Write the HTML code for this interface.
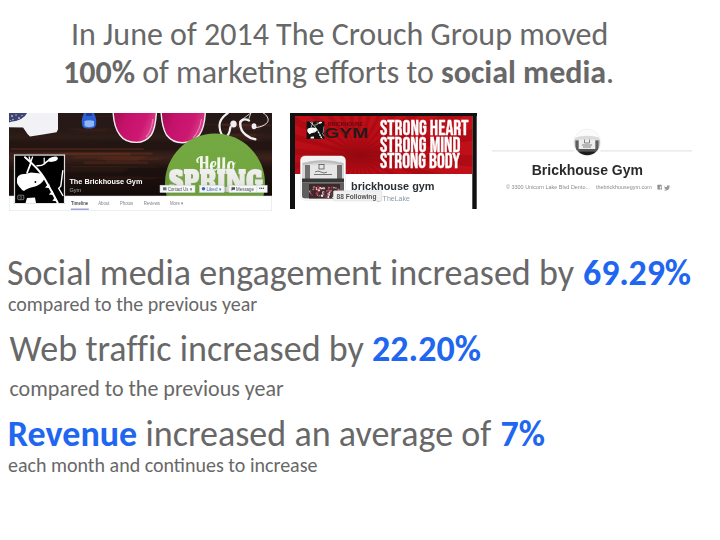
<!DOCTYPE html>
<html>
<head>
<meta charset="utf-8">
<style>
html,body{margin:0;padding:0;background:#fff;}
body{width:720px;height:540px;position:relative;overflow:hidden;font-family:Carlito,"Liberation Sans",sans-serif;color:#686868;}
.t{position:absolute;white-space:nowrap;line-height:normal;}
.b{color:#2066f0;font-weight:bold;}
.s32{font-size:32px;}
.s36{font-size:36px;letter-spacing:0.03px;}
.s20{font-size:20px;}
.s22{font-size:22px;}
.img{position:absolute;overflow:hidden;}
.img svg{display:block;filter:blur(0.3px);}
.h{font-family:"Liberation Sans",Arial,sans-serif;}
</style>
</head>
<body>
<div class="t s32" id="l1" style="left:71px;top:15.2px;">In June of 2014 The Crouch Group moved</div>
<div class="t s32" id="l2" style="left:63px;top:53.4px;"><b>100%</b> of marketing efforts to <b>social media</b>.</div>

<!-- image 1: facebook page -->
<div class="img" id="im1" style="left:9px;top:113px;width:263px;height:98px;">
<svg width="263" height="98" viewBox="0 0 263 98">
<defs>
<linearGradient id="wood" x1="0" y1="0" x2="0" y2="1">
<stop offset="0" stop-color="#251816"/>
<stop offset="0.22" stop-color="#271916"/>
<stop offset="0.29" stop-color="#2e1d18"/>
<stop offset="0.36" stop-color="#211512"/>
<stop offset="0.44" stop-color="#251512"/>
<stop offset="0.5" stop-color="#33201a"/>
<stop offset="0.54" stop-color="#3c211a"/>
<stop offset="0.59" stop-color="#301b16"/>
<stop offset="0.66" stop-color="#1f1310"/>
<stop offset="0.8" stop-color="#1c110e"/>
<stop offset="1" stop-color="#140c0a"/>
</linearGradient>
<linearGradient id="pink" x1="0" y1="0" x2="1" y2="0.3">
<stop offset="0" stop-color="#a00b50"/>
<stop offset="0.35" stop-color="#c4126a"/>
<stop offset="0.75" stop-color="#cc1870"/>
<stop offset="1" stop-color="#d8408a"/>
</linearGradient>
<linearGradient id="grn" x1="0" y1="0" x2="0" y2="1">
<stop offset="0" stop-color="#74a842"/>
<stop offset="0.45" stop-color="#72a63f"/>
<stop offset="1" stop-color="#5a8c2e"/>
</linearGradient>
<linearGradient id="spr" x1="0" y1="0" x2="0" y2="1"><stop offset="0" stop-color="#f6f6f2"/><stop offset="0.55" stop-color="#e6e6e2"/><stop offset="1" stop-color="#a8aaa4"/></linearGradient>
<clipPath id="cov"><rect x="0" y="0" width="263" height="83"/></clipPath>
</defs>
<rect x="0" y="0" width="263" height="98" fill="#fff"/>
<g clip-path="url(#cov)">
<rect x="0" y="0" width="263" height="83" fill="url(#wood)"/>
<g><rect x="65.6" y="3.3" width="43.1" height="1.1" fill="#5a2a22" opacity="0.08"/><rect x="62.2" y="3.5" width="47.1" height="0.9" fill="#5a2a22" opacity="0.08"/><rect x="60.2" y="2.3" width="34.9" height="1.0" fill="#5a2a22" opacity="0.07"/><rect x="72.7" y="2.9" width="26.9" height="2.2" fill="#5a2a22" opacity="0.08"/><rect x="70.6" y="5.9" width="34.2" height="0.9" fill="#5a2a22" opacity="0.07"/><rect x="69.6" y="2.5" width="37.2" height="1.5" fill="#5a2a22" opacity="0.09"/><rect x="63.1" y="17.2" width="45.7" height="1.6" fill="#6a3226" opacity="0.08"/><rect x="60.3" y="15.0" width="44.1" height="2.3" fill="#6a3226" opacity="0.11"/><rect x="69.1" y="16.3" width="28.4" height="1.5" fill="#6a3226" opacity="0.09"/><rect x="71.0" y="16.9" width="25.9" height="2.0" fill="#6a3226" opacity="0.10"/><rect x="60.0" y="18.9" width="36.3" height="1.1" fill="#6a3226" opacity="0.08"/><rect x="66.0" y="16.4" width="30.2" height="0.9" fill="#6a3226" opacity="0.11"/><rect x="213.9" y="15.3" width="37.0" height="1.5" fill="#6a3028" opacity="0.28"/><rect x="220.7" y="12.7" width="32.6" height="2.6" fill="#6a3028" opacity="0.30"/><rect x="212.6" y="10.4" width="30.1" height="2.3" fill="#6a3028" opacity="0.33"/><rect x="213.2" y="11.7" width="49.4" height="1.6" fill="#6a3028" opacity="0.26"/><rect x="196.6" y="11.0" width="50.7" height="1.1" fill="#6a3028" opacity="0.20"/><rect x="218.7" y="11.5" width="42.7" height="1.7" fill="#6a3028" opacity="0.26"/><rect x="220.6" y="23.3" width="26.0" height="2.7" fill="#5a2a22" opacity="0.21"/><rect x="222.3" y="22.5" width="22.6" height="1.6" fill="#5a2a22" opacity="0.19"/><rect x="205.9" y="21.1" width="48.0" height="1.3" fill="#5a2a22" opacity="0.26"/><rect x="210.6" y="21.6" width="45.5" height="0.8" fill="#5a2a22" opacity="0.25"/><rect x="213.0" y="25.7" width="38.3" height="2.3" fill="#5a2a22" opacity="0.27"/><rect x="219.7" y="20.3" width="26.8" height="2.8" fill="#5a2a22" opacity="0.29"/><rect x="4.1" y="27.6" width="76.8" height="1.7" fill="#4a261e" opacity="0.07"/><rect x="6.5" y="26.3" width="83.3" height="1.3" fill="#4a261e" opacity="0.07"/><rect x="4.1" y="26.0" width="85.0" height="1.1" fill="#4a261e" opacity="0.07"/><rect x="5.9" y="29.5" width="86.5" height="2.2" fill="#4a261e" opacity="0.08"/><rect x="34.0" y="27.5" width="36.2" height="1.1" fill="#4a261e" opacity="0.10"/><rect x="4.1" y="27.9" width="85.6" height="1.0" fill="#4a261e" opacity="0.08"/><rect x="1.5" y="39.8" width="112.9" height="1.2" fill="#70351f" opacity="0.30"/><rect x="1.7" y="35.0" width="132.9" height="2.0" fill="#70351f" opacity="0.39"/><rect x="16.7" y="40.0" width="125.7" height="2.3" fill="#70351f" opacity="0.23"/><rect x="49.9" y="39.4" width="94.3" height="2.0" fill="#70351f" opacity="0.24"/><rect x="54.6" y="39.7" width="66.7" height="3.0" fill="#70351f" opacity="0.36"/><rect x="33.1" y="39.2" width="109.8" height="1.3" fill="#70351f" opacity="0.20"/><rect x="65.9" y="43.2" width="72.3" height="1.4" fill="#6a3220" opacity="0.35"/><rect x="96.5" y="45.7" width="33.4" height="2.9" fill="#6a3220" opacity="0.25"/><rect x="63.3" y="44.3" width="90.3" height="1.3" fill="#6a3220" opacity="0.29"/><rect x="75.1" y="48.4" width="64.3" height="2.6" fill="#6a3220" opacity="0.32"/><rect x="93.2" y="43.5" width="42.1" height="2.3" fill="#6a3220" opacity="0.32"/><rect x="88.1" y="45.9" width="61.4" height="1.2" fill="#6a3220" opacity="0.32"/><rect x="25.7" y="57.8" width="88.9" height="1.7" fill="#4a2a20" opacity="0.22"/><rect x="9.7" y="53.0" width="106.9" height="1.1" fill="#4a2a20" opacity="0.23"/><rect x="62.7" y="52.9" width="65.7" height="2.6" fill="#4a2a20" opacity="0.17"/><rect x="0.9" y="55.3" width="112.5" height="1.1" fill="#4a2a20" opacity="0.21"/><rect x="27.8" y="55.2" width="90.4" height="2.9" fill="#4a2a20" opacity="0.23"/><rect x="18.7" y="53.3" width="129.7" height="1.4" fill="#4a2a20" opacity="0.20"/><rect x="65.2" y="63.0" width="67.5" height="1.7" fill="#3e2219" opacity="0.17"/><rect x="96.2" y="63.8" width="51.2" height="2.1" fill="#3e2219" opacity="0.24"/><rect x="80.9" y="64.0" width="78.5" height="2.0" fill="#3e2219" opacity="0.18"/><rect x="92.0" y="62.7" width="62.9" height="0.8" fill="#3e2219" opacity="0.19"/><rect x="73.0" y="64.9" width="71.4" height="2.0" fill="#3e2219" opacity="0.20"/><rect x="82.4" y="65.1" width="70.1" height="1.0" fill="#3e2219" opacity="0.16"/></g>
<!-- towel -->
<path d="M0 0 H49 V16.5 L47.5 19.2 L34 21.5 L21 23.5 L18.5 21 L14 14.5 L0 14.2 Z" fill="#f2f2f6"/>
<path d="M0 0 H18 L16 3 L12 6 L7 8 L3 8.5 L0 9.5 Z" fill="#2a3062" opacity="0.9"/>
<g fill="#c8cae8" opacity="0.85"><circle cx="3" cy="3" r="1"/><circle cx="7" cy="2" r="0.8"/><circle cx="10" cy="5" r="1"/><circle cx="4" cy="6.5" r="0.8"/><circle cx="13" cy="2.5" r="0.7"/><circle cx="1.5" cy="7.5" r="0.6"/></g>
<!-- bottle -->
<path d="M75 0 H85 L86.5 4 C87.5 7 87.5 12 86 14 C84 16 76 16 74 14 C72.5 12 72.5 7 73.5 4 Z" fill="#2c5fd4"/>
<path d="M75.5 8 C78 7 82 7 85 8 L85 13 C82 14.5 78 14.5 75.5 13 Z" fill="#8fb8f0"/>
<rect x="77" y="0" width="6" height="3" fill="#1c3a9a"/>
<!-- shoes -->
<path d="M104 -2 C104.5 8 106 16 110.9 22 C114 26.5 120 29.4 127.7 29.4 C134 29.4 139 26 142.2 22 C145.5 17 147 8 147.5 -2 Z" fill="url(#pink)" stroke="#f2eef0" stroke-width="1.4"/>
<path d="M152 -2 C152.5 8 154 16 157.5 22 C161 26.5 166.5 29.8 173.5 29.8 C180 29.8 186 26.5 190.3 22 C194 17 196 8 196.4 -2 Z" fill="url(#pink)" stroke="#f2eef0" stroke-width="1.4"/>
<path d="M137 24 C141 20 143 14 144 6" fill="none" stroke="#f08cc0" stroke-width="1.2" opacity="0.8"/>
<path d="M184 25 C188 21 191 15 192.5 6" fill="none" stroke="#f08cc0" stroke-width="1.2" opacity="0.8"/>
<!-- earphones -->
<g fill="none" stroke="#f0f0f0" stroke-linecap="round">
<path d="M218.8 0 C213 4 210 9 210.6 14 C211 19 213 23 216 23.7 C218.5 24 220.5 20 221.5 14" stroke-width="2.2"/>
<path d="M240 7.5 C235 5 231 7 231.2 11 C231.3 16 233 19 237 22 C240 24.5 243 26 246.3 26.3" stroke-width="2.4"/>
<path d="M241.9 0 L240 5.5 M230.3 8.6 L241.9 0" stroke-width="0.8"/>
<path d="M254.3 0 C258 2 260 6 258.8 8.6 C257 12 252 14 247 14.5" stroke-width="1"/>
</g>
<ellipse cx="224.5" cy="11" rx="3.2" ry="3.6" fill="#f0f0f0"/>
<ellipse cx="245" cy="13.2" rx="2.4" ry="3" fill="#f0f0f0"/>
<!-- green circle -->
<circle cx="206" cy="70.5" r="50" fill="url(#grn)"/>
<text x="187" y="58.3" font-family="'Lobster Two',Lobster,'Liberation Serif',serif" font-weight="bold" font-size="19" fill="#f4f6ec" textLength="39.6" lengthAdjust="spacingAndGlyphs">Hello</text>
<text x="160" y="79" font-family="'Alfa Slab One','Liberation Serif',serif" font-size="30" fill="url(#spr)" stroke="#9a9c96" stroke-width="0.6" paint-order="stroke" textLength="94" lengthAdjust="spacingAndGlyphs">SPRING</text>
<!-- bottom dark overlay -->
<rect x="0" y="55" width="160" height="28" fill="#000" opacity="0.07"/>
</g>
<!-- buttons -->
<g font-family="Liberation Sans,Arial,sans-serif" font-size="5" fill="#4b4f56">
<rect x="151" y="72.2" width="35" height="7.3" fill="#f6f7f9" stroke="#ccd0d5" stroke-width="0.5"/>
<rect x="154" y="74.3" width="3.5" height="3" fill="#6b6f76"/>
<text x="159" y="77.6" textLength="24" lengthAdjust="spacingAndGlyphs">Contact Us ▾</text>
<rect x="190.5" y="72.2" width="24.5" height="7.3" fill="#f6f7f9" stroke="#ccd0d5" stroke-width="0.5"/>
<circle cx="194.5" cy="75.8" r="1.8" fill="#4267b2"/>
<text x="197.5" y="77.6" fill="#4267b2" textLength="15" lengthAdjust="spacingAndGlyphs">Liked ▾</text>
<rect x="220" y="72.2" width="38.2" height="7.3" fill="#f6f7f9" stroke="#ccd0d5" stroke-width="0.5"/>
<path d="M222.5 74.3 h3.5 v2.5 h-2 l-1.5 1.2 z" fill="#4b4f56"/>
<text x="227" y="77.6" textLength="18" lengthAdjust="spacingAndGlyphs">Message</text>
<line x1="247.8" y1="72.5" x2="247.8" y2="79.2" stroke="#ccd0d5" stroke-width="0.5"/>
<text x="250" y="77.4">•••</text>
</g>
<!-- name -->
<text x="60.4" y="71" font-family="Liberation Sans,Arial,sans-serif" font-weight="bold" font-size="7.3" fill="#fff">The Brickhouse Gym</text>
<text x="60.4" y="79" font-family="Liberation Sans,Arial,sans-serif" font-size="5.5" fill="#a8a8a8">Gym</text>
<!-- tab bar -->
<rect x="0.25" y="83" width="262.5" height="14.75" fill="#fff" stroke="#dddfe2" stroke-width="0.5"/>
<g font-family="Liberation Sans,Arial,sans-serif" font-size="5" fill="#7a7f88">
<text x="62" y="92.2" font-weight="bold" fill="#4b4f56" textLength="17.2" lengthAdjust="spacingAndGlyphs">Timeline</text>
<text x="89.2" y="92.2" textLength="11.3" lengthAdjust="spacingAndGlyphs">About</text>
<text x="111" y="92.2" textLength="13.2" lengthAdjust="spacingAndGlyphs">Photos</text>
<text x="134.7" y="92.2" textLength="16.3" lengthAdjust="spacingAndGlyphs">Reviews</text>
<text x="161" y="92.2" textLength="13.6" lengthAdjust="spacingAndGlyphs">More ▾</text>
</g>
<rect x="61.8" y="95.6" width="18" height="1.2" fill="#8a8fcf"/>
<!-- profile pic -->
<rect x="5.1" y="41.6" width="50.8" height="49.2" fill="#fff" stroke="#bbb" stroke-width="0.4"/>
<rect x="6.1" y="42.6" width="48.8" height="47.4" fill="#000"/>
<g fill="none" stroke="#fff" stroke-linecap="round">
<path d="M16 44.2 Q30 56 35.2 65 T48.7 89.8" stroke-width="2"/>
<path d="M21.7 50.4 L18.1 59.7" stroke-width="1.8"/>
<path d="M20.2 44 L21.6 49 M23.5 44 L21.8 49" stroke-width="1.3"/>
<path d="M28 52.8 Q33 53 35.2 51 Q37 49 39.5 47.5" stroke-width="1.6"/>
<path d="M35.2 45.2 L35.2 50.5" stroke-width="1.2"/>
<path d="M53.8 57.7 L51.8 73.2 L49.7 75.3 L53.8 82.5" stroke-width="1.4"/>
</g>
<g fill="#fff">
<ellipse cx="44" cy="46.2" rx="5" ry="2.4" transform="rotate(-15 44 46.2)"/>
<path d="M8 67 C8 62 12 61 16 61 L22 59.5 L27 60 L31.5 60.5 L35.5 65.5 C34 69 30 73 24 74 C20 75 17 76 15 78 L13 77 C12 75 9 73 8 70 Z"/>
<path d="M40 70.5 L36 74.5 L41.3 75.2 Z M43.6 77.5 L39.8 81.5 L45 82 Z M46.6 83.8 L43.3 87.8 L48 88.2 Z"/>
<path d="M16.5 90 L18 85 L26 84.5 L27 90 Z"/>
</g>
<circle cx="26.4" cy="69" r="0.9" fill="#000"/>
<rect x="8.8" y="82.2" width="6" height="4.5" rx="0.8" fill="none" stroke="#aaa" stroke-width="0.7"/>
<circle cx="11.8" cy="84.5" r="1" fill="none" stroke="#aaa" stroke-width="0.5"/>
</svg>
</div>

<!-- image 2: twitter -->
<div class="img" id="im2" style="left:290px;top:113px;width:187px;height:96px;">
<svg width="187" height="96" viewBox="0 0 187 96">
<defs>
<radialGradient id="rb" cx="0.37" cy="0.68" r="0.8">
<stop offset="0" stop-color="#920910"/>
<stop offset="0.35" stop-color="#b80c16"/>
<stop offset="1" stop-color="#c41119"/>
</radialGradient>
<linearGradient id="bld" x1="0" y1="0" x2="0" y2="1">
<stop offset="0" stop-color="#e8e8e8"/>
<stop offset="0.45" stop-color="#cfcfcf"/>
<stop offset="0.5" stop-color="#555"/>
<stop offset="0.62" stop-color="#3a3a3a"/>
<stop offset="0.7" stop-color="#6a3a3a"/>
<stop offset="1" stop-color="#8a4a4a"/>
</linearGradient>
<filter id="bl" x="-0.1" y="-0.1" width="1.2" height="1.2"><feGaussianBlur stdDeviation="0.45"/></filter>
<clipPath id="redc"><rect x="5" y="3" width="177.3" height="58"/></clipPath>
</defs>
<rect x="0" y="0" width="187" height="96" fill="#fff"/>
<rect x="0" y="0" width="5" height="96" fill="#111"/>
<rect x="182.3" y="0" width="4.4" height="96" fill="#111"/>
<rect x="0" y="0" width="187" height="3" fill="#111"/>
<rect x="5" y="3" width="177.3" height="58" fill="url(#rb)"/>
<g clip-path="url(#redc)" fill="#9a0610" opacity="0.45"><path d="M68 42 L268.0 42.0 L267.0 62.2 Z M68 42 L263.0 86.5 L257.5 105.9 Z M68 42 L248.2 128.8 L238.5 146.5 Z M68 42 L224.4 166.7 L211.0 181.8 Z M68 42 L192.7 198.4 L176.3 210.1 Z M68 42 L154.8 222.2 L136.2 230.0 Z M68 42 L112.5 237.0 L92.6 240.5 Z M68 42 L68.0 242.0 L47.8 241.0 Z M68 42 L23.5 237.0 L4.1 231.5 Z M68 42 L-18.8 222.2 L-36.5 212.5 Z M68 42 L-56.7 198.4 L-71.8 185.0 Z M68 42 L-88.4 166.7 L-100.1 150.3 Z M68 42 L-112.2 128.8 L-120.0 110.2 Z M68 42 L-127.0 86.5 L-130.5 66.6 Z M68 42 L-132.0 42.0 L-131.0 21.8 Z M68 42 L-127.0 -2.5 L-121.5 -21.9 Z M68 42 L-112.2 -44.8 L-102.5 -62.5 Z M68 42 L-88.4 -82.7 L-75.0 -97.8 Z M68 42 L-56.7 -114.4 L-40.3 -126.1 Z M68 42 L-18.8 -138.2 L-0.2 -146.0 Z M68 42 L23.5 -153.0 L43.4 -156.5 Z M68 42 L68.0 -158.0 L88.2 -157.0 Z M68 42 L112.5 -153.0 L131.9 -147.5 Z M68 42 L154.8 -138.2 L172.5 -128.5 Z M68 42 L192.7 -114.4 L207.8 -101.0 Z M68 42 L224.4 -82.7 L236.1 -66.3 Z M68 42 L248.2 -44.8 L256.0 -26.2 Z M68 42 L263.0 -2.5 L266.5 17.4 Z"/></g>
<!-- logo -->
<rect x="16.6" y="8.4" width="17.7" height="17.6" fill="#111"/>
<g transform="translate(14.39 -7.05) scale(0.3627)"><g fill="none" stroke="#fff" stroke-linecap="round">
<path d="M16 44.2 Q30 56 35.2 65 T48.7 89.8" stroke-width="2"/>
<path d="M21.7 50.4 L18.1 59.7" stroke-width="1.8"/>
<path d="M20.2 44 L21.6 49 M23.5 44 L21.8 49" stroke-width="1.3"/>
<path d="M28 52.8 Q33 53 35.2 51 Q37 49 39.5 47.5" stroke-width="1.6"/>
<path d="M35.2 45.2 L35.2 50.5" stroke-width="1.2"/>
<path d="M53.8 57.7 L51.8 73.2 L49.7 75.3 L53.8 82.5" stroke-width="1.4"/>
</g>
<g fill="#fff">
<ellipse cx="44" cy="46.2" rx="5" ry="2.4" transform="rotate(-15 44 46.2)"/>
<path d="M8 67 C8 62 12 61 16 61 L22 59.5 L27 60 L31.5 60.5 L35.5 65.5 C34 69 30 73 24 74 C20 75 17 76 15 78 L13 77 C12 75 9 73 8 70 Z"/>
<path d="M40 70.5 L36 74.5 L41.3 75.2 Z M43.6 77.5 L39.8 81.5 L45 82 Z M46.6 83.8 L43.3 87.8 L48 88.2 Z"/>
<path d="M16.5 90 L18 85 L26 84.5 L27 90 Z"/>
</g>
<circle cx="26.4" cy="69" r="0.9" fill="#000"/></g>
<text x="38" y="13" font-family="Liberation Sans,Arial,sans-serif" font-weight="bold" font-size="5" fill="#5a0a0e" textLength="35" lengthAdjust="spacingAndGlyphs">BRICKHOUSE</text>
<text x="34.5" y="24.8" font-family="Liberation Sans,Arial,sans-serif" font-weight="bold" font-size="15" fill="#231a1a" textLength="44" lengthAdjust="spacingAndGlyphs">GYM</text>
<!-- strong text -->
<g font-family="'Bebas Neue','Liberation Sans',Arial,sans-serif" font-weight="normal" font-size="20.5" fill="#fff" stroke="#fff" stroke-width="0.35">
<text x="90" y="22.1" textLength="88.5" lengthAdjust="spacingAndGlyphs">STRONG HEART</text>
<text x="90" y="38.7" textLength="80.5" lengthAdjust="spacingAndGlyphs">STRONG MIND</text>
<text x="90" y="55.4" textLength="80" lengthAdjust="spacingAndGlyphs">STRONG BODY</text>
</g>
<!-- avatar -->
<rect x="10.5" y="43" width="45" height="44.2" rx="4.5" fill="#fafafa" stroke="#e0e0e0" stroke-width="0.5"/>
<clipPath id="av2"><rect x="12" y="44.6" width="42" height="41" rx="3"/></clipPath>
<g clip-path="url(#av2)">
<rect x="12" y="44.6" width="42" height="41" fill="#d6d6d6"/>
<path d="M12 44.6 H54 V50 Q33 44 12 50 Z" fill="#f2f2f2"/>
<path d="M13 50 Q33 44.5 53 50 L53 52 Q33 47 13 52 Z" fill="#bdbdbd"/>
<rect x="15" y="52" width="5" height="14" fill="#707070"/>
<rect x="47" y="52" width="5" height="14" fill="#707070"/>
<rect x="20" y="52" width="27" height="14" fill="#e6e6e6"/>
<rect x="29" y="51.5" width="5" height="4.5" fill="none" stroke="#555" stroke-width="0.8"/>
<path d="M25 59 q3 -2 6 0 q3 2 6 0 M24 61.5 h18" fill="none" stroke="#666" stroke-width="0.9"/>
<rect x="12" y="65.5" width="42" height="4" fill="#363636"/>
<rect x="12" y="69.5" width="42" height="16.1" fill="#5e5e5e"/>
<rect x="19" y="71" width="31" height="15" fill="#3a2a2c"/>
<g filter="url(#bl)">
<circle cx="26.6" cy="79.7" r="1.0" fill="#902838"/>
<circle cx="38.3" cy="74.7" r="0.7" fill="#902838"/>
<circle cx="27.3" cy="76.5" r="1.6" fill="#902838"/>
<circle cx="35.7" cy="79.8" r="1.1" fill="#7a2030"/>
<circle cx="26.5" cy="75.6" r="1.5" fill="#f0e8e8"/>
<circle cx="41.7" cy="81.0" r="0.8" fill="#b8304a"/>
<circle cx="28.5" cy="74.3" r="1.5" fill="#902838"/>
<circle cx="37.3" cy="83.7" r="1.0" fill="#f0e8e8"/>
<circle cx="31.3" cy="82.4" r="1.1" fill="#7a2030"/>
<circle cx="45.9" cy="75.0" r="0.8" fill="#e8a0b0"/>
<circle cx="27.2" cy="81.1" r="1.4" fill="#444"/>
<circle cx="32.1" cy="82.8" r="1.2" fill="#f0e8e8"/>
<circle cx="37.0" cy="83.5" r="1.3" fill="#b8304a"/>
<circle cx="45.2" cy="84.4" r="1.3" fill="#7a2030"/>
<circle cx="40.5" cy="77.4" r="1.2" fill="#d8d0d0"/>
<circle cx="40.9" cy="76.2" r="1.4" fill="#444"/>
<circle cx="28.0" cy="74.7" r="1.5" fill="#902838"/>
<circle cx="22.2" cy="82.4" r="1.1" fill="#7a2030"/>
<circle cx="20.1" cy="78.5" r="1.1" fill="#d8d0d0"/>
<circle cx="20.8" cy="80.5" r="0.7" fill="#c06070"/>
<circle cx="36.0" cy="83.7" r="1.0" fill="#e8a0b0"/>
<circle cx="49.5" cy="77.3" r="0.8" fill="#b8304a"/>
<circle cx="48.0" cy="84.2" r="1.0" fill="#444"/>
<circle cx="24.2" cy="74.4" r="1.5" fill="#c06070"/>
<circle cx="30.3" cy="75.5" r="1.5" fill="#f0e8e8"/>
<circle cx="33.3" cy="79.5" r="1.3" fill="#d8d0d0"/>
<circle cx="38.1" cy="83.9" r="1.2" fill="#f0e8e8"/>
<circle cx="38.5" cy="81.5" r="1.5" fill="#f0e8e8"/>
<circle cx="48.8" cy="79.5" r="1.2" fill="#b8304a"/>
<circle cx="43.2" cy="84.4" r="1.0" fill="#f0e8e8"/>
<circle cx="38.0" cy="80.6" r="0.8" fill="#c06070"/>
<circle cx="33.5" cy="81.1" r="1.0" fill="#444"/>
<circle cx="41.6" cy="74.2" r="0.8" fill="#b8304a"/>
<circle cx="48.4" cy="76.6" r="1.1" fill="#c06070"/>
<circle cx="24.8" cy="75.9" r="1.4" fill="#444"/>
<circle cx="28.5" cy="78.0" r="1.4" fill="#b8304a"/>
<circle cx="48.6" cy="81.2" r="0.8" fill="#e8a0b0"/>
<circle cx="39.1" cy="76.8" r="1.0" fill="#f0e8e8"/>
<circle cx="39.0" cy="75.0" r="1.2" fill="#c06070"/>
<circle cx="39.7" cy="76.4" r="1.4" fill="#7a2030"/>
<circle cx="21.9" cy="81.8" r="0.9" fill="#902838"/>
<circle cx="27.6" cy="82.3" r="0.7" fill="#e8a0b0"/>
<circle cx="29.0" cy="82.8" r="1.2" fill="#444"/>
<circle cx="29.7" cy="82.7" r="0.8" fill="#c06070"/>
<circle cx="37.2" cy="78.4" r="1.2" fill="#444"/>
<circle cx="33.4" cy="80.7" r="1.0" fill="#f0e8e8"/>
<circle cx="20.6" cy="78.3" r="0.9" fill="#902838"/>
<circle cx="47.8" cy="83.2" r="1.6" fill="#f0e8e8"/>
<circle cx="36.3" cy="84.4" r="1.3" fill="#b8304a"/>
<circle cx="41.9" cy="82.8" r="1.3" fill="#444"/>
<circle cx="35.8" cy="83.3" r="1.5" fill="#444"/>
<circle cx="23.1" cy="76.6" r="0.7" fill="#e8a0b0"/>
<circle cx="46.4" cy="83.4" r="1.2" fill="#b8304a"/>
<circle cx="33.9" cy="75.3" r="1.2" fill="#e8a0b0"/>
<circle cx="39.4" cy="79.5" r="1.1" fill="#d8d0d0"/>
<circle cx="29.7" cy="76.7" r="1.5" fill="#902838"/>
<circle cx="43.8" cy="74.6" r="0.9" fill="#d8d0d0"/>
<circle cx="35.5" cy="82.6" r="0.9" fill="#444"/>
<circle cx="47.2" cy="82.5" r="1.4" fill="#b8304a"/>
<circle cx="34.1" cy="80.0" r="1.1" fill="#444"/>
<circle cx="26.9" cy="80.5" r="1.2" fill="#b8304a"/>
<circle cx="33.7" cy="82.2" r="0.7" fill="#b8304a"/>
<circle cx="42.8" cy="74.5" r="0.7" fill="#902838"/>
<circle cx="48.7" cy="83.0" r="0.8" fill="#902838"/>
<circle cx="29.0" cy="77.3" r="1.0" fill="#f0e8e8"/>
<circle cx="37.1" cy="77.8" r="0.9" fill="#c06070"/>
<circle cx="32.4" cy="75.3" r="0.7" fill="#f0e8e8"/>
<circle cx="43.4" cy="80.0" r="0.7" fill="#902838"/>
<circle cx="37.6" cy="82.2" r="1.0" fill="#b8304a"/>
<circle cx="38.2" cy="78.5" r="1.0" fill="#902838"/>
</g>
</g>
<!-- name -->
<text x="61" y="77" font-family="Liberation Sans,Arial,sans-serif" font-weight="bold" font-size="10.9" fill="#292f33">brickhouse gym</text>
<text x="85.5" y="87.5" font-family="Liberation Sans,Arial,sans-serif" font-size="7" fill="#8899a6">@TheLake</text>
<!-- tooltip -->
<rect x="43.4" y="77.8" width="48.4" height="10.2" rx="1" fill="#f0f0f0" stroke="#d8d8d8" stroke-width="0.5"/>
<text x="46.5" y="85.5" font-family="Liberation Sans,Arial,sans-serif" font-weight="bold" font-size="6.6" fill="#555">88 Following</text>
</svg>
</div>

<!-- image 3: pinterest -->
<div class="img" id="im3" style="left:490px;top:125px;width:210px;height:75px;">
<svg width="210" height="75" viewBox="0 0 210 75">
<line x1="2" y1="25.8" x2="202" y2="25.8" stroke="#e6e6e6" stroke-width="1.2"/>
<circle cx="97.2" cy="17.5" r="15.5" fill="#fff"/>
<circle cx="97.2" cy="17.5" r="13.4" fill="#fff" stroke="#ececec" stroke-width="0.8"/>
<clipPath id="av3"><circle cx="97.2" cy="17.5" r="12.8"/></clipPath>
<g clip-path="url(#av3)">
<rect x="84" y="4" width="27" height="27" fill="#fbfbfb"/>
<path d="M84 13 Q97 8.5 111 13 V16 H84 Z" fill="#dadada"/>
<rect x="84" y="15" width="27" height="10" fill="#bdbdbd"/>
<rect x="85.5" y="15.5" width="3" height="9" fill="#5e5e5e"/>
<rect x="105.5" y="15.5" width="3" height="9" fill="#5e5e5e"/>
<rect x="89" y="14.5" width="16" height="9.5" fill="#ededed"/>
<path d="M94.5 14.5 v3.5 h5 v-3.5 M92 20 h10 M93 22 h8" fill="none" stroke="#777" stroke-width="0.9"/>
<rect x="84" y="24" width="27" height="2.2" fill="#565656"/>
<rect x="84" y="26.2" width="27" height="6" fill="#1c1c1c"/>
</g>
<text x="41.7" y="50" font-family="Liberation Sans,Arial,sans-serif" font-weight="bold" font-size="14" fill="#2a2a2a">Brickhouse Gym</text>
<g font-family="Liberation Sans,Arial,sans-serif" font-size="6.2" fill="#8a8a8a">
<text x="16" y="64.4" textLength="84" lengthAdjust="spacingAndGlyphs">© 3300 Unicorn Lake Blvd Dento...</text>
<text x="106" y="64.4" textLength="55.7" lengthAdjust="spacingAndGlyphs">thebrickhousegym.com</text>
</g>
<rect x="167.4" y="59.8" width="4.6" height="4.6" rx="0.5" fill="#8f8f8f"/>
<path d="M170.6 64.4 v-2.6 q0-1 1-1 M169.6 62.2 h2" fill="none" stroke="#fff" stroke-width="0.7"/>
<path transform="translate(0 -0.5)" d="M173.8 61.6 q1.2 1.2 3 0.8 q-0.2-1.3 1-1.6 q0.8-0.1 1.2 0.4 l1-0.4 l-0.5 0.9 q0.2 3-2.5 4 q-1.8 0.6-3.2-0.3 q1.5 0 2.3-0.7 q-1.2-0.1-1.5-1 q0.4 0.1 0.7-0.1 q-1.3-0.4-1.3-1.6 q0.4 0.2 0.7 0.2 q-1-0.8-0.4-2z" fill="#999"/>
</svg>
</div>

<div class="t s36" id="l3" style="left:7px;top:250.6px;">Social media engagement increased by <span class="b" style="margin-left:0.9px;letter-spacing:-0.2px">69.29%</span></div>
<div class="t s20" id="l4" style="left:8px;top:291.8px;">compared to the previous year</div>
<div class="t s36" id="l5" style="left:9.6px;top:327.3px;">Web traffic increased by <span class="b">22.20%</span></div>
<div class="t s22" id="l6" style="left:9.5px;top:374.5px;">compared to the previous year</div>
<div class="t s36" id="l7" style="left:7.8px;top:412.4px;"><span class="b">Revenue</span> increased an average of <span class="b" style="margin-left:1px">7%</span></div>
<div class="t s20" id="l8" style="left:8px;top:453.2px;">each month and continues to increase</div>
<script>
(function(){
var W={l1:537.3,l2:551.2,l3:683.8,l4:249.3,l5:471.5,l6:274.2,l7:537.3,l8:309.5};
for(var k in W){var e=document.getElementById(k);if(!e)continue;
var w=e.getBoundingClientRect().width;
if(w>0&&Math.abs(w-W[k])>1.5){var fs=parseFloat(getComputedStyle(e).fontSize)||20;var r=W[k]/w;e.style.transformOrigin='0 '+(0.93*fs).toFixed(1)+'px';e.style.transform='scale('+r.toFixed(4)+','+Math.min(1,r*1.02).toFixed(4)+')';}}
})();
</script>
</body>
</html>
